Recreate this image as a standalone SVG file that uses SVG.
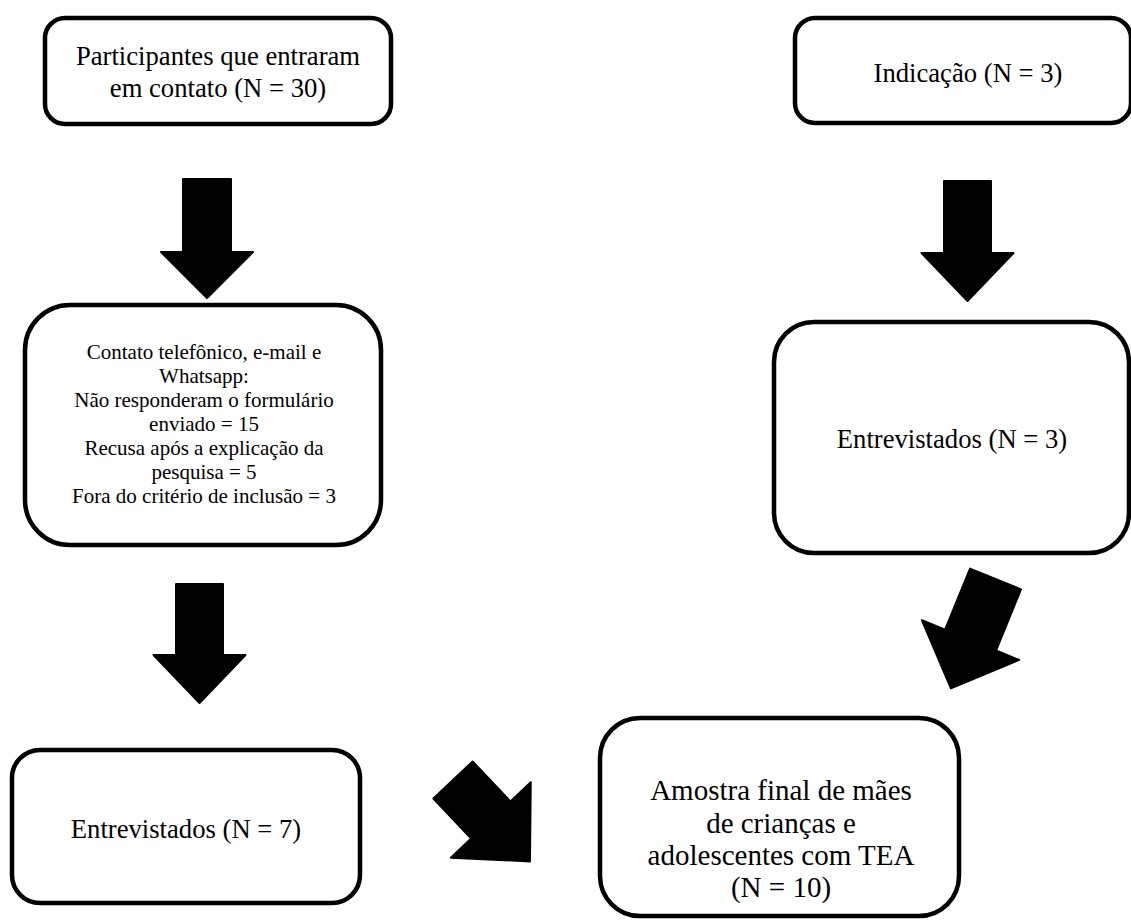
<svg xmlns="http://www.w3.org/2000/svg" width="1131" height="920" viewBox="0 0 1131 920">
<style>
.box{fill:#fff;stroke:#000;stroke-width:4.5}
.arrow{fill:#000;stroke:#000;stroke-width:2;stroke-linejoin:round}
text{font-family:"Liberation Serif","Times New Roman",serif;fill:#000;text-anchor:middle}
.t{font-size:26.67px}
.s{font-size:21px}
.l{font-size:29px}
</style>
<rect width="1131" height="920" fill="#fff"/>
<g id="connectors">
<path class="arrow" transform="translate(207,179)" d="M-24,0 H24 V73 H46 L0,119 L-46,73 H-24 Z"/>
<path class="arrow" transform="translate(967.5,181)" d="M-23.5,0 H23.5 V72 H46 L0,120 L-46,72 H-23.5 Z"/>
<path class="arrow" transform="translate(199.5,584)" d="M-23.5,0 H23.5 V71 H46 L0,119 L-46,71 H-23.5 Z"/>
<path class="arrow" transform="translate(453,780) rotate(-43.4)" d="M-27,0 H27 V55 H55 L0,112 L-55,55 H-27 Z"/>
<path class="arrow" transform="translate(995.5,579) rotate(22.2)" d="M-27.5,0 H27.5 V66 H52.5 L0,118 L-52.5,66 H-27.5 Z"/>
</g>
<g id="n1">
<rect class="box" x="45" y="18" width="346" height="106" rx="20"/>
<text class="t" x="218" y="65">Participantes que entraram</text>
<text class="t" x="218" y="97">em contato (N = 30)</text>
</g>
<g id="n2">
<rect class="box" x="795" y="18" width="336" height="105" rx="20"/>
<text class="t" x="968" y="82">Indicação (N = 3)</text>
</g>
<g id="n3">
<rect class="box" x="25" y="305" width="356" height="240" rx="45"/>
<text class="s" x="204" y="359">Contato telefônico, e-mail e</text>
<text class="s" x="204" y="383">Whatsapp:</text>
<text class="s" x="204" y="407">Não responderam o formulário</text>
<text class="s" x="204" y="431">enviado = 15</text>
<text class="s" x="204" y="455">Recusa após a explicação da</text>
<text class="s" x="204" y="479">pesquisa = 5</text>
<text class="s" x="204" y="503">Fora do critério de inclusão = 3</text>
</g>
<g id="n4">
<rect class="box" x="774" y="322" width="355" height="231" rx="40"/>
<text class="t" x="952" y="448">Entrevistados (N = 3)</text>
</g>
<g id="n5">
<rect class="box" x="12" y="750" width="348" height="153" rx="28"/>
<text class="t" x="186" y="838">Entrevistados (N = 7)</text>
</g>
<g id="n6">
<rect class="box" x="600" y="718" width="359" height="198" rx="40"/>
<text class="l" x="781" y="800">Amostra final de mães</text>
<text class="l" x="781" y="833">de crianças e</text>
<text class="l" x="781" y="865">adolescentes com TEA</text>
<text class="l" x="781" y="897">(N = 10)</text>
</g>
</svg>
